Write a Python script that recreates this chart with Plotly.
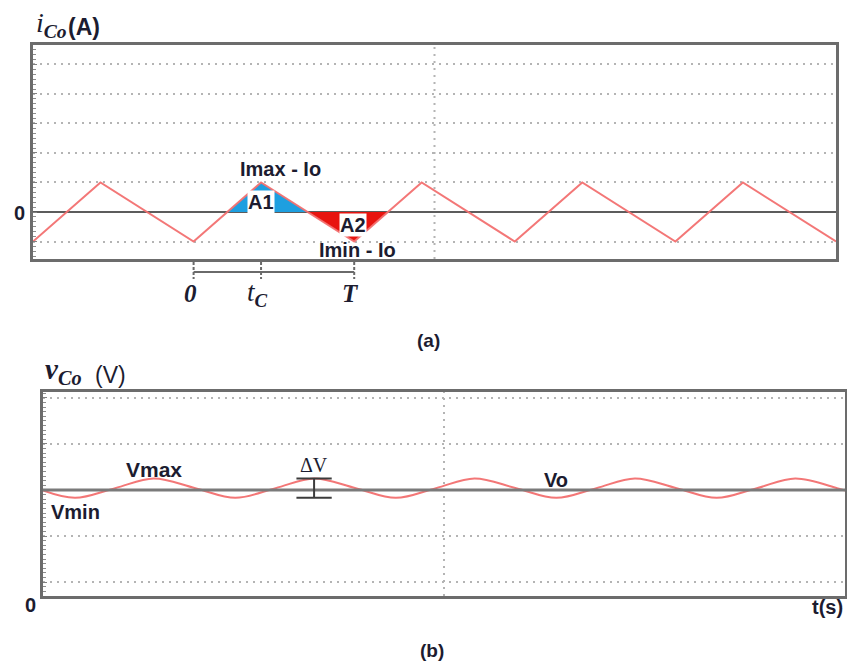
import plotly.graph_objects as go

W, H = 847, 666

# Capacitor current ripple: vertices of the triangular wave (time in switching periods T)
t_i = [0.0, 0.42, 1.0, 1.42, 2.0, 2.42, 3.0, 3.42, 4.0, 4.42, 5.0]
i_c = [-1.0, 1.0, -1.0, 1.0, -1.0, 1.0, -1.0, 1.0, -1.0, 1.0, -1.0]

# Capacitor voltage ripple around Vo (troughs, mid-crossings, peaks)
t_v = [0.0, 0.20, 0.45, 0.69, 0.95, 1.20, 1.45, 1.69, 1.95, 2.20, 2.45,
       2.69, 2.95, 3.20, 3.45, 3.69, 3.95, 4.20, 4.45, 4.69, 4.95, 5.0]
v_c = [2.99, 2.83, 3.04, 3.25, 3.04, 2.83, 3.04, 3.25, 3.04, 2.83, 3.04,
       3.25, 3.04, 2.83, 3.04, 3.25, 3.04, 2.83, 3.04, 3.25, 3.04, 2.99]

v_o = 3.0
v_max = 3.25
v_min = 2.83

# one switching period used for the A1 / A2 areas and the time scale
k0, k_pk, k1 = 2, 3, 4          # indices into t_i: trough, peak, next trough
tick_names = ["<b><i>0</i></b>", "<i>t</i><sub><b><i>C</i></b></sub>", "<b><i>T</i></b>"]
tick_sizes = [25, 27, 25]

WAVE = "rgba(242,112,112,0.95)"
GRID = "#b4b4b4"
FRAME = "#6c6c6c"
TXT = "#1c1c30"
SANS = "Liberation Sans, Arial, sans-serif"
SERIF = "Liberation Serif, DejaVu Serif, serif"


def zero_cross(ta, ia, tb, ib):
    return ta + (0 - ia) * (tb - ta) / (ib - ia)


def px(x, y):
    return x / W, 1 - y / H


fig = go.Figure()

# A1 (positive charge) and A2 (negative charge) triangles
za = zero_cross(t_i[k0], i_c[k0], t_i[k_pk], i_c[k_pk])
zb = zero_cross(t_i[k_pk], i_c[k_pk], t_i[k1], i_c[k1])
zc = zero_cross(t_i[k1], i_c[k1], t_i[k1 + 1], i_c[k1 + 1])
fig.add_trace(go.Scatter(x=[za, t_i[k_pk], zb, za], y=[0, i_c[k_pk], 0, 0],
                         fill="toself", fillcolor="#1e9fe0", mode="none",
                         xaxis="x", yaxis="y", hoverinfo="skip"))
fig.add_trace(go.Scatter(x=[zb, t_i[k1], zc, zb], y=[0, i_c[k1], 0, 0],
                         fill="toself", fillcolor="#e8140f", mode="none",
                         xaxis="x", yaxis="y", hoverinfo="skip"))

# current waveform
fig.add_trace(go.Scatter(x=t_i, y=i_c, mode="lines",
                         line=dict(color=WAVE, width=2), xaxis="x", yaxis="y"))

# voltage waveform
fig.add_trace(go.Scatter(x=t_v, y=v_c, mode="lines",
                         line=dict(color=WAVE, width=2, shape="spline", smoothing=1.0),
                         xaxis="x2", yaxis="y2"))

axis_common = dict(showline=True, mirror=True, linecolor=FRAME, linewidth=3,
                   showticklabels=False)

fig.update_layout(
    width=W, height=H,
    margin=dict(l=0, r=0, t=0, b=0),
    paper_bgcolor="white", plot_bgcolor="white",
    showlegend=False,
    xaxis=dict(domain=[33 / W, 836 / W], range=[0, 5], showgrid=False,
               zeroline=False, ticks="", **axis_common),
    yaxis=dict(domain=[1 - 259 / H, 1 - 45 / H], range=[-1.593, 5.66],
               tick0=0, dtick=1, showgrid=True, gridcolor=GRID, gridwidth=2,
               griddash="2px,5px", zeroline=True, zerolinecolor="#5c5c5c",
               zerolinewidth=2, ticks="inside", ticklen=4, tickcolor="#808080",
               minor=dict(ticks="inside", ticklen=3, dtick=1 / 6,
                          tickcolor="#8c8c8c", showgrid=False),
               **axis_common),
    xaxis2=dict(domain=[43 / W, 845 / W], range=[0, 5], showgrid=False,
                zeroline=False, ticks="", anchor="y2", **axis_common),
    yaxis2=dict(domain=[1 - 596 / H, 1 - 392 / H], range=[0.696, 5.13],
                tick0=0, dtick=1, showgrid=True, gridcolor=GRID, gridwidth=2,
                griddash="2px,5px", zeroline=False, ticks="inside", ticklen=4,
                tickcolor="#808080",
                minor=dict(ticks="inside", ticklen=3, dtick=0.1,
                           tickcolor="#8c8c8c", showgrid=False),
                anchor="x2", **axis_common),
)

shapes = []
# centre dotted verticals
for xr, yr in (("x", "y domain"), ("x2", "y2 domain")):
    shapes.append(dict(type="line", xref=xr, yref=yr, x0=2.5, x1=2.5, y0=0, y1=1,
                       line=dict(color=GRID, width=2, dash="2px,5px"), layer="below"))
# Vo reference line
shapes.append(dict(type="line", xref="x2 domain", yref="y2", x0=0, x1=1,
                   y0=v_o, y1=v_o, line=dict(color="#7a7a7a", width=3), layer="above"))
# ΔV marker at a voltage peak
t_pk_v = t_v[7]
for y in (v_max, v_min):
    shapes.append(dict(type="line", xref="x2", yref="y2", x0=t_pk_v - 0.11,
                       x1=t_pk_v + 0.11, y0=y, y1=y,
                       line=dict(color="#3c3c3c", width=2), layer="above"))
shapes.append(dict(type="line", xref="x2", yref="y2", x0=t_pk_v, x1=t_pk_v,
                   y0=v_max, y1=v_min, line=dict(color="#3c3c3c", width=2),
                   layer="above"))
# time scale under panel (a)
tick_t = [t_i[k0], t_i[k_pk], t_i[k1]]
_, yb = px(0, 272)
_, yt0 = px(0, 262)
_, yt1 = px(0, 279)
shapes.append(dict(type="line", xref="x", yref="paper", x0=tick_t[0], x1=tick_t[-1],
                   y0=yb, y1=yb, line=dict(color="#6a6a6a", width=2)))
for tt in tick_t:
    shapes.append(dict(type="line", xref="x", yref="paper", x0=tt, x1=tt,
                       y0=yt0, y1=yt1, line=dict(color="#6a6a6a", width=2, dash="3px,2px")))
fig.update_layout(shapes=shapes)

ann = []


def label(text, x, y, size=20, font=SANS, xref="paper", yref="paper", **kw):
    d = dict(text=text, x=x, y=y, xref=xref, yref=yref, showarrow=False,
             xanchor="center", yanchor="middle",
             font=dict(family=font, size=size, color=TXT))
    d.update(kw)
    ann.append(d)


# axis titles
x0, y0 = px(34, 44)
label("<i>i</i><sub><b><i>Co</i></b></sub>", x0, y0, size=28, font=SERIF,
      xanchor="left", yanchor="bottom")
x0, y0 = px(66, 42)
label("<b>(A)</b>", x0, y0, size=23, xanchor="left", yanchor="bottom")
x0, y0 = px(43, 391)
label("<b><i>v</i></b><sub><b><i>Co</i></b></sub>", x0, y0, size=29, font=SERIF,
      xanchor="left", yanchor="bottom")
x0, y0 = px(93, 390)
label("(V)", x0, y0, size=23, xanchor="left", yanchor="bottom")

# zero labels, t(s), panel captions
label("<b>0</b>", *px(19, 213), size=20)
label("<b>0</b>", *px(31, 605), size=20)
label("<b>t(s)</b>", *px(827, 607), size=20)
label("<b>(a)</b>", *px(429, 341), size=19)
label("<b>(b)</b>", *px(432, 650), size=19)

# current panel annotations
label("<b>Imax - Io</b>", t_i[k_pk] + 0.12, i_c[k_pk] + 0.46, xref="x", yref="y")
label("<b>Imin - Io</b>", t_i[k1] + 0.02, i_c[k1] - 0.29, xref="x", yref="y")
label("<b>A1</b>", t_i[k_pk], 0.34, xref="x", yref="y", bgcolor="white", borderpad=0)
label("<b>A2</b>", t_i[k1] - 0.01, -0.44, xref="x", yref="y", bgcolor="white", borderpad=0)

# time-scale tick names
_, ytk = px(0, 294)
for tt, name, sz in zip(tick_t, tick_names, tick_sizes):
    label(name, tt - 0.02, ytk, size=sz, font=SERIF, xref="x", yref="paper")

# voltage panel annotations
label("<b>Vmax</b>", t_v[3], v_max + 0.19, xref="x2", yref="y2", size=21)
label("<b>Vmin</b>", 0.2, v_o - 0.48, xref="x2", yref="y2", size=20)
label("<b>Vo</b>", 3.2, v_o + 0.22, xref="x2", yref="y2", size=20)
label("ΔV", t_pk_v, v_max + 0.3, xref="x2", yref="y2", size=20, font=SERIF)

fig.update_layout(annotations=ann)

fig.write_html("out.html")
